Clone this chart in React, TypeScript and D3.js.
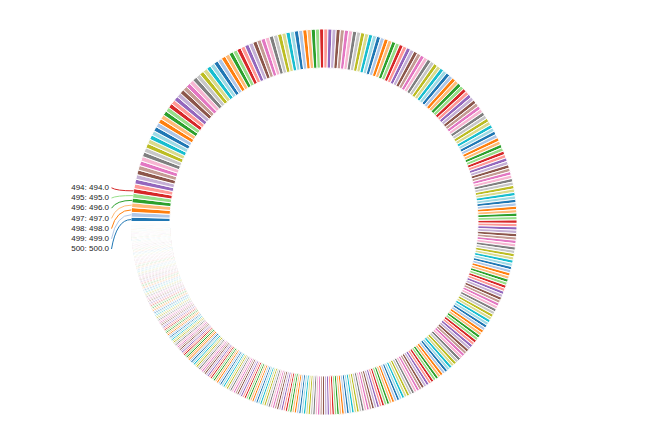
import React from 'react';
import * as d3 from 'd3';

// slice values (already in descending order, as drawn clockwise from 9 o'clock)
const values: number[] = [
  500,499,498,497,496,495,494,493,492,491,490,489,488,487,486,485,484,483,482,481,
  480,479,478,477,476,475,474,473,472,471,470,469,468,467,466,465,464,463,462,461,
  460,459,458,457,456,455,454,453,452,451,450,449,448,447,446,445,444,443,442,441,
  440,439,438,437,436,435,434,433,432,431,430,429,428,427,426,425,424,423,422,421,
  420,419,418,417,416,415,414,413,412,411,410,409,408,407,406,405,404,403,402,401,
  400,399,398,397,396,395,394,393,392,391,390,389,388,387,386,385,384,383,382,381,
  380,379,378,377,376,375,374,373,372,371,370,369,368,367,366,365,364,363,362,361,
  360,359,358,357,356,355,354,353,352,351,350,349,348,347,346,345,344,343,342,341,
  340,339,338,337,336,335,334,333,332,331,330,329,328,327,326,325,324,323,322,321,
  320,319,318,317,316,315,314,313,312,311,310,309,308,307,306,305,304,303,302,301,
  300,299,298,297,296,295,294,293,292,291,290,289,288,287,286,285,284,283,282,281,
  280,279,278,277,276,275,274,273,272,271,270,269,268,267,266,265,264,263,262,261,
  260,259,258,257,256,255,254,253,252,251,250,249,248,247,246,245,244,243,242,241,
  240,239,238,237,236,235,234,233,232,231,230,229,228,227,226,225,224,223,222,221,
  220,219,218,217,216,215,214,213,212,211,210,209,208,207,206,205,204,203,202,201,
  200,199,198,197,196,195,194,193,192,191,190,189,188,187,186,185,184,183,182,181,
  180,179,178,177,176,175,174,173,172,171,170,169,168,167,166,165,164,163,162,161,
  160,159,158,157,156,155,154,153,152,151,150,149,148,147,146,145,144,143,142,141,
  140,139,138,137,136,135,134,133,132,131,130,129,128,127,126,125,124,123,122,121,
  120,119,118,117,116,115,114,113,112,111,110,109,108,107,106,105,104,103,102,101,
  100,99,98,97,96,95,94,93,92,91,90,89,88,87,86,85,84,83,82,81,
  80,79,78,77,76,75,74,73,72,71,70,69,68,67,66,65,64,63,62,61,
  60,59,58,57,56,55,54,53,52,51,50,49,48,47,46,45,44,43,42,41,
  40,39,38,37,36,35,34,33,32,31,30,29,28,27,26,25,24,23,22,21,
  20,19,18,17,16,15,14,13,12,11,10,9,8,7,6,5,4,3,2,1,
];

// slices that carry an outside label
const labeledValues: number[] = [494, 495, 496, 497, 498, 499, 500];

const palette: string[] = [
  '#1f77b4', '#aec7e8', '#ff7f0e', '#ffbb78', '#2ca02c', '#98df8a', '#d62728', '#ff9896',
  '#9467bd', '#c5b0d5', '#8c564b', '#c49c94', '#e377c2', '#f7b6d2', '#7f7f7f', '#c7c7c7',
  '#bcbd22', '#dbdb8d', '#17becf', '#9edae5',
];

export default function App() {
  const W = 648;
  const H = 447;
  const cx = 324;
  const cy = 222;
  const R = 193;
  const r = 154;

  const pie = d3
    .pie<number>()
    .sort(null)
    .value((d) => d)
    .startAngle(-Math.PI / 2)
    .endAngle((3 * Math.PI) / 2);
  const arcs = pie(values);
  const arcGen = d3.arc<d3.PieArcDatum<number>>().innerRadius(r).outerRadius(R);
  const color = d3.scaleOrdinal<number, string>().domain(d3.range(palette.length)).range(palette);

  const labeled = arcs
    .filter((a) => labeledValues.includes(a.data))
    .sort((a, b) => a.data - b.data);

  const labelX = 109;
  const labelY0 = 187.8;
  const labelStep = 10.2;

  return (
    <svg
      width={W}
      height={H}
      style={{ position: 'absolute', left: 0, top: 0, background: '#fff' }}
    >
      <g transform={`translate(${cx},${cy})`}>
        {arcs.map((a, i) => (
          <path
            key={i}
            d={arcGen(a) || ''}
            fill={color(i % palette.length)}
            stroke="#fff"
            strokeWidth={1}
          />
        ))}
      </g>
      <g>
        {labeled.map((a, j) => {
          const i = arcs.indexOf(a);
          const mid = (a.startAngle + a.endAngle) / 2;
          const px = cx + R * Math.sin(mid);
          const py = cy - R * Math.cos(mid);
          const ly = labelY0 + j * labelStep;
          const sx = labelX + 2.5;
          const path = d3.path();
          path.moveTo(sx, ly);
          path.quadraticCurveTo(sx + 5, py, px, py);
          return (
            <g key={a.data}>
              <path
                d={path.toString()}
                fill="none"
                stroke={color(i % palette.length)}
                strokeWidth={1}
              />
              <text
                x={labelX}
                y={ly}
                textAnchor="end"
                dominantBaseline="middle"
                fontFamily="'Liberation Sans', Arial, sans-serif"
                fontSize={8}
                fill="#222"
              >
                {`${a.data}: ${a.value.toFixed(1)}`}
              </text>
            </g>
          );
        })}
      </g>
    </svg>
  );
}
